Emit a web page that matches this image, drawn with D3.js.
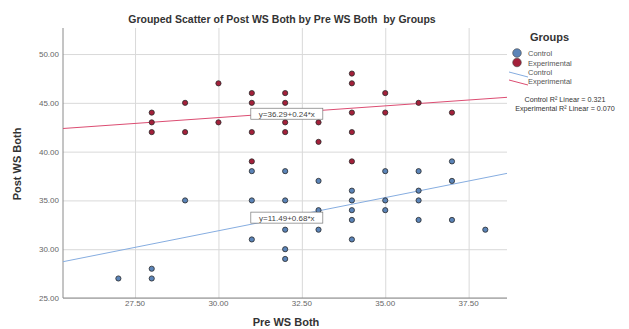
<!DOCTYPE html>
<html>
<head>
<meta charset="utf-8">
<script src="https://cdn.jsdelivr.net/npm/d3@7"></script>
<style>
  body { margin: 0; background: #fff; }
  svg { font-family: 'Liberation Sans', Arial, sans-serif; }
  .grid line { stroke: #d9d9d9; stroke-width: 1; }
  .grid path { stroke: none; }
  .tick-lbl { font-size: 8px; fill: #666; }
</style>
</head>
<body>
<svg id="chart" width="629" height="329"></svg>
<script>
// data
const controlPre  = [27, 28, 28, 29, 31, 31, 31, 32, 32, 32, 32, 32, 33, 33, 33, 34, 34, 34, 34, 34, 35, 35, 35, 36, 36, 36, 36, 37, 37, 37, 38];
const controlPost = [27, 28, 27, 35, 38, 35, 31, 38, 35, 32, 30, 29, 37, 34, 32, 36, 35, 34, 33, 31, 38, 35, 34, 38, 36, 35, 33, 39, 37, 33, 32];
const expPre  = [28, 28, 28, 29, 29, 30, 30, 31, 31, 31, 31, 32, 32, 32, 32, 33, 33, 34, 34, 34, 34, 34, 35, 35, 36, 37];
const expPost = [44, 43, 42, 45, 42, 47, 43, 46, 45, 42, 39, 46, 45, 43, 42, 43, 41, 48, 47, 44, 42, 39, 46, 44, 45, 44];

// fit lines: [intercept, slope]
const controlFit = [11.49, 0.68];
const expFit = [36.29, 0.24];
const fitLabels = ['y=11.49+0.68*x', 'y=36.29+0.24*x'];
const rSquared = ['Control R\u00b2 Linear = 0.321', 'Experimental R\u00b2 Linear = 0.070'];
const groupNames = ['Control', 'Experimental'];

const xTicks = [27.5, 30, 32.5, 35, 37.5];
const yTicks = [25, 30, 35, 40, 45, 50];

const colors = { Control: '#5b84b8', Experimental: '#a3203a' };
const lineColors = { Control: '#86ade0', Experimental: '#dc4d72' };

const svg = d3.select('#chart');
const plotL = 63, plotR = 507, plotT = 28, plotB = 298;

const x = d3.scaleLinear().domain([25.34, 38.65]).range([plotL, plotR]);
const y = d3.scaleLinear().domain([25, 52.67]).range([plotB, plotT]);
const fmt = d3.format('.2f');

// grid
svg.append('g')
  .attr('class', 'grid')
  .attr('transform', `translate(0,${plotB})`)
  .call(d3.axisBottom(x).tickValues(xTicks).tickSize(-(plotB - plotT)).tickFormat(''));
svg.append('g')
  .attr('class', 'grid')
  .attr('transform', `translate(${plotL},0)`)
  .call(d3.axisLeft(y).tickValues(yTicks).tickSize(-(plotR - plotL)).tickFormat(''));

// axis lines
svg.append('line')
  .attr('x1', plotL).attr('x2', plotL).attr('y1', plotT).attr('y2', plotB)
  .attr('stroke', '#8a8a8a');
svg.append('line')
  .attr('x1', plotL).attr('x2', plotR).attr('y1', plotB).attr('y2', plotB)
  .attr('stroke', '#8a8a8a');

// tick labels
svg.selectAll('.xlbl')
  .data(xTicks)
  .enter().append('text')
  .attr('class', 'tick-lbl')
  .attr('x', d => x(d))
  .attr('y', plotB + 8)
  .attr('text-anchor', 'middle')
  .text(d => fmt(d));
svg.selectAll('.ylbl')
  .data(yTicks)
  .enter().append('text')
  .attr('class', 'tick-lbl')
  .attr('x', plotL - 4)
  .attr('y', d => y(d) + 3)
  .attr('text-anchor', 'end')
  .text(d => fmt(d));

// axis titles
svg.append('text')
  .attr('x', 286).attr('y', 326)
  .attr('text-anchor', 'middle')
  .attr('font-size', 11).attr('font-weight', 'bold').attr('fill', '#333')
  .text('Pre WS Both');
svg.append('text')
  .attr('transform', 'translate(21,164) rotate(-90)')
  .attr('text-anchor', 'middle')
  .attr('font-size', 11).attr('font-weight', 'bold').attr('fill', '#333')
  .text('Post WS Both');

svg.append('text')
  .attr('x', 282).attr('y', 23)
  .attr('text-anchor', 'middle')
  .attr('font-size', 10.5).attr('font-weight', 'bold').attr('fill', '#333')
  .style('white-space', 'pre')
  .text('Grouped Scatter of Post WS Both by Pre WS Both  by Groups');

// fit lines
const fits = [
  { name: 'Control', coef: controlFit, label: fitLabels[0], at: 31, dy: -12 },
  { name: 'Experimental', coef: expFit, label: fitLabels[1], at: 31, dy: -7 }
];
const [x0, x1] = x.domain();
fits.forEach(f => {
  svg.append('line')
    .attr('x1', x(x0)).attr('y1', y(f.coef[0] + f.coef[1] * x0))
    .attr('x2', x(x1)).attr('y2', y(f.coef[0] + f.coef[1] * x1))
    .attr('stroke', lineColors[f.name])
    .attr('stroke-width', 1);
});

// points
const pts = controlPre.map((d, i) => ({ g: 'Control', px: d, py: controlPost[i] }))
  .concat(expPre.map((d, i) => ({ g: 'Experimental', px: d, py: expPost[i] })));
svg.selectAll('.pt')
  .data(pts)
  .enter().append('circle')
  .attr('cx', d => x(d.px))
  .attr('cy', d => y(d.py))
  .attr('r', 2.6)
  .attr('fill', d => colors[d.g])
  .attr('stroke', '#2b2b2b')
  .attr('stroke-width', 0.8);

// fit labels
fits.forEach(f => {
  const ax = x(f.at);
  const ay = y(f.coef[0] + f.coef[1] * f.at);
  svg.append('rect')
    .attr('x', ax - 1).attr('y', ay + f.dy)
    .attr('width', 72).attr('height', 11)
    .attr('fill', '#fff')
    .attr('stroke', '#777').attr('stroke-width', 0.7);
  svg.append('text')
    .attr('x', ax + 35).attr('y', ay + f.dy + 8.5)
    .attr('text-anchor', 'middle')
    .attr('font-size', 8).attr('fill', '#444')
    .text(f.label);
});

// legend
svg.append('text')
  .attr('x', 530).attr('y', 41)
  .attr('font-size', 11).attr('font-weight', 'bold').attr('fill', '#333')
  .text('Groups');
groupNames.forEach((g, i) => {
  svg.append('circle')
    .attr('cx', 517).attr('cy', 53 + i * 9.5)
    .attr('r', 4.3)
    .attr('fill', colors[g])
    .attr('stroke', '#444').attr('stroke-width', 0.6);
  svg.append('text')
    .attr('x', 528).attr('y', 56 + i * 9.5)
    .attr('font-size', 7.5).attr('fill', '#555')
    .text(g);
  svg.append('line')
    .attr('x1', 509).attr('y1', 72 + i * 8)
    .attr('x2', 528).attr('y2', 77 + i * 8)
    .attr('stroke', lineColors[g]).attr('stroke-width', 1);
  svg.append('text')
    .attr('x', 528).attr('y', 75 + i * 8.5)
    .attr('font-size', 7.5).attr('fill', '#555')
    .text(g);
});
rSquared.forEach((t, i) => {
  svg.append('text')
    .attr('x', 565).attr('y', 102 + i * 8.5)
    .attr('text-anchor', 'middle')
    .attr('font-size', 7.2).attr('fill', '#333')
    .text(t);
});
</script>
</body>
</html>
